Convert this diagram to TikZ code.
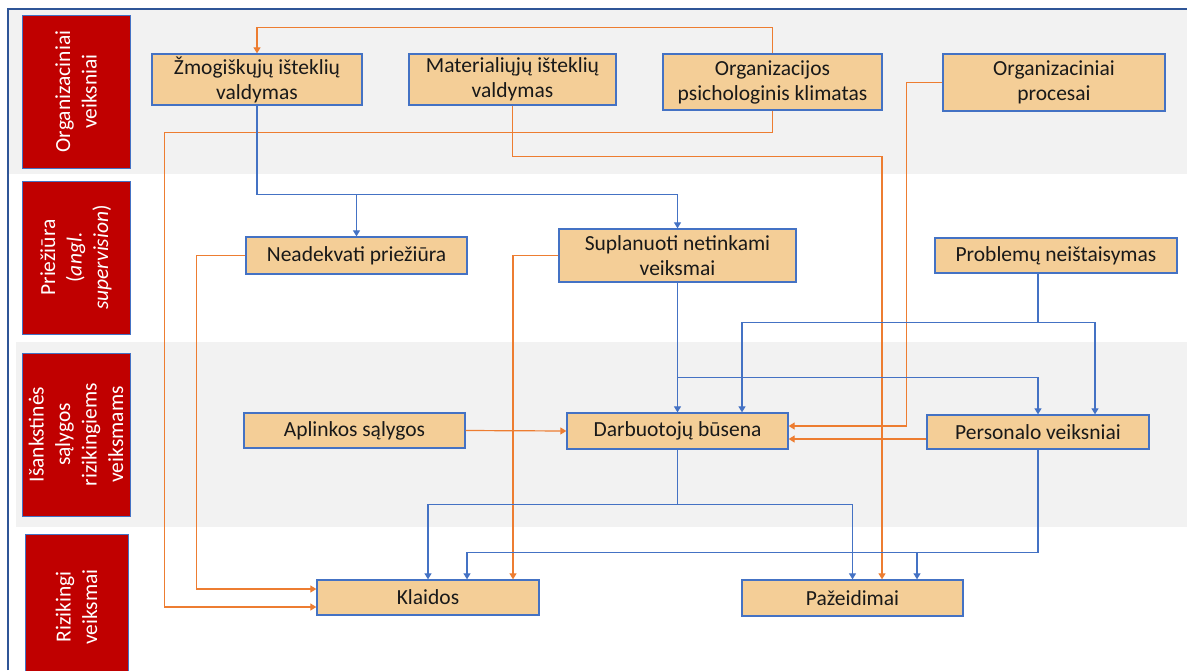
\documentclass[tikz,border=0pt]{standalone}
\usepackage{fontspec}
\setmainfont{Carlito}
\usetikzlibrary{arrows.meta,calc}

\definecolor{boxfill}{HTML}{F4CE97}
\definecolor{boxline}{HTML}{4472C4}
\definecolor{lanered}{HTML}{C00000}
\definecolor{bandgray}{HTML}{F2F2F2}
\definecolor{linkblue}{HTML}{4472C4}
\definecolor{linkorange}{HTML}{ED7D31}
\definecolor{framecol}{HTML}{2F5597}

\begin{document}
\begin{tikzpicture}[x=1pt, y=-1pt,
    box/.style={rectangle, draw=boxline, line width=1.3pt, fill=boxfill, align=center, inner sep=2pt, font=\fontsize{21.5}{25}\selectfont, text=black!90},
    lane/.style={rectangle, draw=boxline, line width=0.8pt, fill=lanered, text=white, rotate=90, align=center, minimum height=108pt, font=\fontsize{21.5}{26.5}\selectfont},
    barrow/.style={draw=linkblue, line width=1.2pt, -{Triangle[width=7pt,length=6pt]}},
    oarrow/.style={draw=linkorange, line width=1.2pt, -{Triangle[width=7pt,length=6pt]}}
]
\useasboundingbox (0,0) rectangle (1187,670);

% Bands and frame
\fill[bandgray] (9,9) rectangle (1187,174);
\fill[bandgray] (16,342) rectangle (1187,527);
\draw[framecol, line width=1.2pt] (8,670) -- (8,9) -- (1187,9);

% Lane labels
\node[lane, minimum width=153pt] (lorg) at (76,91.5) {Organizaciniai\\veiksniai};
\node[lane, minimum width=153pt] (lsup) at (76,257.5) {Priežiūra\\(\textit{angl.}\\\textit{supervision})};
\node[lane, minimum width=163pt] (lpre) at (76,434.5) {Išankstinės\\sąlygos\\rizikingiems\\veiksmams};
\node[lane, minimum width=146pt, minimum height=103pt] (lrisk) at (76.5,607) {Rizikingi\\veiksmai};

% Organizaciniai veiksniai
\node[box, minimum width=210pt, minimum height=51pt] (zmog) at (257,79.5) {Žmogiškųjų išteklių\\valdymas};
\node[box, minimum width=207pt, minimum height=51pt] (mat) at (512.5,79.5) {Materialiųjų išteklių\\valdymas};
\node[box, minimum width=219pt, minimum height=56pt] (psych) at (772.5,82) {Organizacijos\\psichologinis klimatas};
\node[box, minimum width=222pt, minimum height=57pt] (proc) at (1054,82.5) {Organizaciniai\\procesai};

% Prieziura
\node[box, minimum width=221pt, minimum height=37pt] (nead) at (356.5,255.5) {Neadekvati priežiūra};
\node[box, minimum width=237pt, minimum height=53pt] (supl) at (677.5,255.5) {Suplanuoti netinkami\\veiksmai};
\node[box, minimum width=242pt, minimum height=35pt] (prob) at (1056,255.5) {Problemų neištaisymas};

% Isankstines salygos
\node[box, minimum width=221pt, minimum height=35pt] (apl) at (354.5,430.5) {Aplinkos sąlygos};
\node[box, minimum width=221pt, minimum height=36pt] (darb) at (677.5,431) {Darbuotojų būsena};
\node[box, minimum width=222pt, minimum height=34pt] (pers) at (1038,432) {Personalo veiksniai};

% Rizikingi veiksmai
\node[box, minimum width=222pt, minimum height=35pt] (klaid) at (428,597.5) {Klaidos};
\node[box, minimum width=221pt, minimum height=36pt] (paz) at (852.5,598) {Pažeidimai};

% Orange connections
\draw[oarrow] (psych.north) -- ++(0,-26) -| (zmog.north);
\draw[oarrow] (psych.south) -- ++(0,21.5) -| ($(klaid.west)+(-152,9.5)$) -- ($(klaid.west)+(0,9.5)$);
\draw[oarrow] (mat.south) -- ++(0,51) -| ($(paz.north)+(29.5,0)$);
\draw[oarrow] (proc.west) -- ++(-36,0) |- ($(darb.east)+(0,-5)$);
\draw[oarrow] (nead.west) -- ++(-49,0) |- ($(klaid.west)+(0,-8.5)$);
\draw[oarrow] (supl.west) -| ($(klaid.north)+(85,0)$);
\draw[oarrow] (apl.east) -- (darb.west);
\draw[oarrow] ($(pers.west)+(0,7)$) -- ($(darb.east)+(0,8)$);

% Blue connections
\draw[barrow] (zmog.south) -- ++(0,88.5) -| (nead.north);
\draw[barrow] (zmog.south) -- ++(0,88.5) -| (supl.north);
\draw[barrow] (supl.south) -- (darb.north);
\draw[barrow] (supl.south) -- ++(0,95) -| (pers.north);
\draw[barrow] ($(prob.south)+(-18,0)$) -- ++(0,49) -| ($(darb.north)+(64.5,0)$);
\draw[barrow] ($(prob.south)+(-18,0)$) -- ++(0,49) -| ($(pers.north)+(57,0)$);
\draw[barrow] (darb.south) -- ++(0,55) -| (klaid.north);
\draw[barrow] (darb.south) -- ++(0,55) -| (paz.north);
\draw[barrow] (pers.south) -- ++(0,103) -| ($(klaid.north)+(39,0)$);
\draw[barrow] (pers.south) -- ++(0,103) -| ($(paz.north)+(64.5,0)$);

\end{tikzpicture}
\end{document}
